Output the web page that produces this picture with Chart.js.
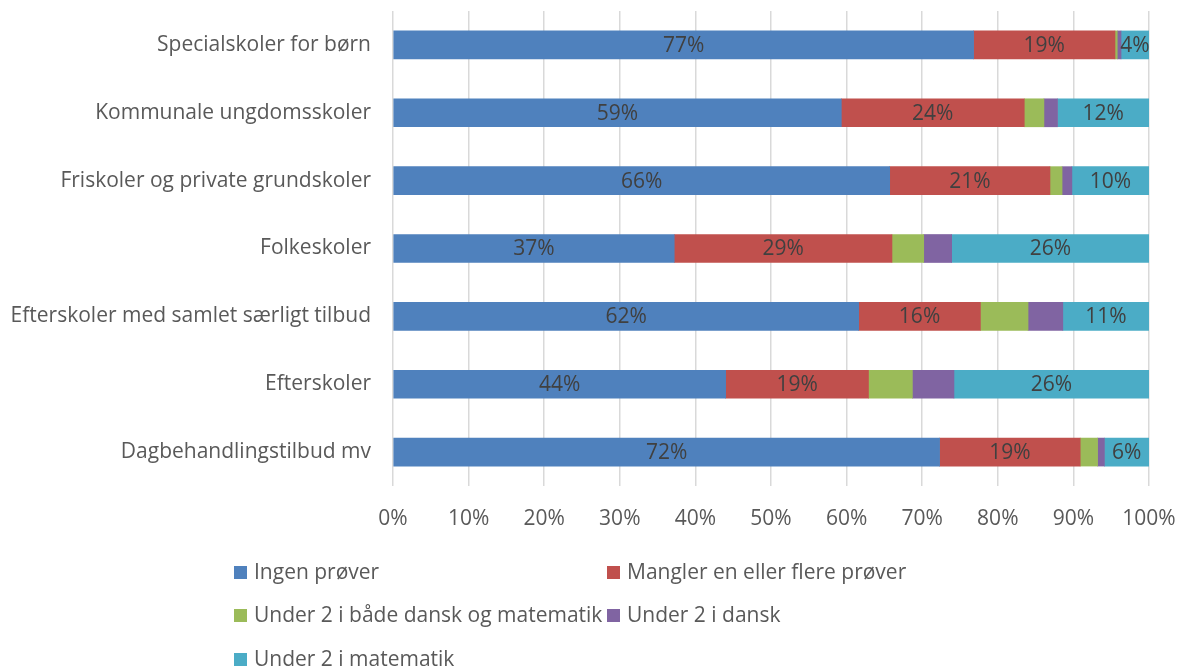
<!DOCTYPE html>
<html>
<head>
<meta charset="utf-8">
<script src="https://cdn.jsdelivr.net/npm/chart.js@4/dist/chart.umd.min.js"></script>
<style>
html,body{margin:0;padding:0;background:#fff;}
#wrap{width:1178px;height:669px;position:relative;}
</style>
</head>
<body>
<div id="wrap"><canvas id="c" width="1178" height="669"></canvas></div>
<script>
const categories = ["Specialskoler for børn","Kommunale ungdomsskoler","Friskoler og private grundskoler","Folkeskoler","Efterskoler med samlet særligt tilbud","Efterskoler","Dagbehandlingstilbud mv"];
const seriesNames = ["Ingen prøver","Mangler en eller flere prøver","Under 2 i både dansk og matematik","Under 2 i dansk","Under 2 i matematik"];
const ingenProver = [76.8, 59.3, 65.7, 37.2, 61.6, 44.0, 72.3];
const manglerProver = [18.7, 24.2, 21.2, 28.8, 16.1, 18.9, 18.6];
const under2Begge = [0.3, 2.6, 1.6, 4.2, 6.3, 5.8, 2.3];
const under2Dansk = [0.5, 1.8, 1.3, 3.7, 4.6, 5.5, 0.9];
const under2Matematik = [3.7, 12.1, 10.2, 26.1, 11.4, 25.8, 5.9];
const xTicks = [0,10,20,30,40,50,60,70,80,90,100];

const colors = ["#4F81BD","#C0504D","#9BBB59","#8064A2","#4BACC6"];
const labelledSeries = [0,1,4];
const FONT = "'Open Sans', sans-serif";
const TEXT = "#595959";
const LABEL = "#404040";

const seriesData = [ingenProver, manglerProver, under2Begge, under2Dansk, under2Matematik];

const barLabels = {
  id:'barLabels',
  afterDatasetsDraw(chart){
    const ctx = chart.ctx;
    ctx.save();
    ctx.font = "21px " + FONT;
    ctx.fillStyle = LABEL;
    ctx.textAlign = 'center';
    ctx.textBaseline = 'middle';
    labelledSeries.forEach(i=>{
      const meta = chart.getDatasetMeta(i);
      meta.data.forEach((el,j)=>{
        const v = chart.data.datasets[i].data[j];
        ctx.fillText(Math.round(v)+'%', (el.x+el.base)/2, el.y+1);
      });
    });
    ctx.restore();
  }
};

const customLegend = {
  id:'customLegend',
  afterDraw(chart){
    const ctx = chart.ctx;
    const cols = [234, 607];
    const rows = [572, 615, 659];
    ctx.save();
    ctx.font = "21px " + FONT;
    ctx.textBaseline = 'middle';
    ctx.textAlign = 'left';
    chart.data.datasets.forEach((ds,i)=>{
      const x = cols[i%2], y = rows[Math.floor(i/2)];
      ctx.fillStyle = ds.backgroundColor;
      ctx.fillRect(x, y-6, 13, 13);
      ctx.fillStyle = TEXT;
      ctx.fillText(ds.label, x+20, y+1);
    });
    ctx.restore();
  }
};

new Chart(document.getElementById('c'), {
  type:'bar',
  data:{
    labels: categories,
    datasets: seriesData.map((d,i)=>({
      label: seriesNames[i],
      data: d,
      backgroundColor: colors[i],
      borderWidth: 0,
      barThickness: 28
    }))
  },
  options:{
    indexAxis:'y',
    responsive:false,
    animation:false,
    layout:{padding:{top:11,right:29,left:0,bottom:0}},
    plugins:{legend:{display:false},tooltip:{enabled:false}},
    scales:{
      x:{
        stacked:true, min:0, max:100,
        afterBuildTicks(s){ s.ticks = xTicks.map(v=>({value:v})); },
        afterFit(s){ s.height = 669-11-475; s.paddingLeft = 0; s.paddingRight = 0; },
        grid:{color:'#D9D9D9', lineWidth:1.5, drawTicks:false},
        border:{display:false},
        ticks:{callback:v=>v+'%', color:TEXT, font:{family:FONT,size:21}, padding:20, maxRotation:0}
      },
      y:{
        stacked:true,
        afterFit(s){ s.width = 393; s.paddingTop = 0; s.paddingBottom = 0; },
        grid:{display:false},
        border:{display:false},
        ticks:{color:TEXT, font:{family:FONT,size:21}, padding:14, autoSkip:false}
      }
    }
  },
  plugins:[barLabels, customLegend]
});
</script>
</body>
</html>
